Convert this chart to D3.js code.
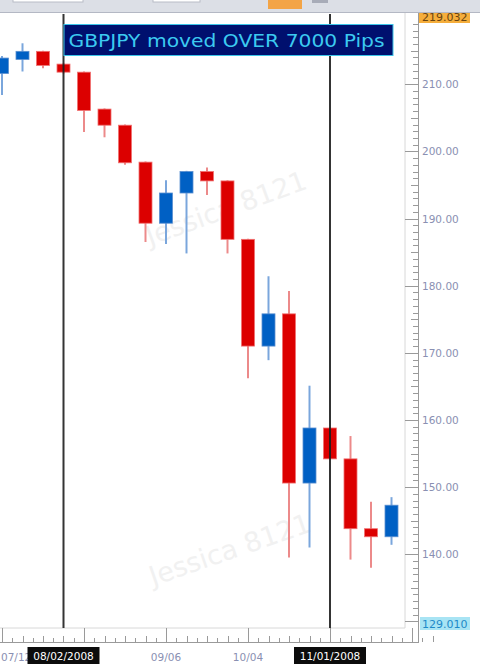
<!DOCTYPE html>
<html>
<head>
<meta charset="utf-8">
<script src="https://cdn.jsdelivr.net/npm/d3@7"></script>
<style>
  html, body { margin: 0; padding: 0; background: #fff; }
  svg { display: block; }
</style>
</head>
<body>
<div class="holder"></div>
<script>
// weekly GBPJPY candles
var dates  = ["07/12", "07/19", "07/26", "08/02", "08/09", "08/16", "08/23", "08/30", "09/06", "09/13",
              "09/20", "09/27", "10/04", "10/11", "10/18", "10/25", "11/01", "11/08", "11/15", "11/22"];
var opens  = [211.6, 213.7, 214.9, 213.0, 211.8, 206.3, 203.9, 198.4, 189.3, 193.8,
              197.0, 195.6, 186.9, 171.0, 175.8, 150.6, 158.8, 154.2, 143.8, 142.6];
var highs  = [214.2, 216.1, 215.0, 213.1, 211.9, 206.4, 204.0, 198.5, 195.7, 197.1,
              197.6, 195.7, 187.0, 181.4, 179.2, 165.1, 158.9, 157.6, 147.8, 148.5];
var lows   = [208.4, 211.9, 212.4, 211.6, 202.9, 202.1, 198.0, 186.5, 186.2, 184.8,
              193.5, 184.8, 166.2, 168.9, 139.5, 141.0, 154.1, 139.2, 138.0, 141.4];
var closes = [213.9, 214.9, 212.8, 211.8, 206.1, 203.9, 198.3, 189.3, 193.8, 197.0,
              195.6, 186.9, 171.0, 175.8, 150.6, 158.8, 154.2, 143.8, 142.6, 147.3];

var priceTicks = [140, 150, 160, 170, 180, 190, 200, 210];
var dateLabels = ["07/12", "09/06", "10/04"];
var markedDates = ["08/02/2008", "11/01/2008"];   // crosshair lines
var markedIdx = [3, 16];
var priceMin = 129.010, priceMax = 219.032;
var title = "GBPJPY moved OVER 7000 Pips";

var candles = dates.map(function(d, i) {
    return {date: d, i: i, o: opens[i], h: highs[i], l: lows[i], c: closes[i]};
});

var width = 480,
    height = 664;
var plotTop = 12, plotBottom = 628, plotRight = 405, axisX = 418;

var x = d3.scaleLinear().domain([0, dates.length - 1]).range([2, 391.5]);
var y = d3.scaleLinear().domain([priceMin, priceMax]).range([628, 23.6]);

var red = "#dc0000", blue = "#0060c4";

var svg = d3.select(".holder").append("svg")
    .attr("width", width)
    .attr("height", height)
    .style("font-family", "DejaVu Sans, Verdana, sans-serif");

svg.append("rect").attr("width", width).attr("height", height).attr("fill", "#fff");

// faint watermarks
var marks = [[150, 246, -20], [153, 586, -19]];
svg.append("g").selectAll("text")
    .data(marks).enter()
    .append("text")
    .attr("transform", function(d) { return "translate(" + d[0] + "," + d[1] + ") rotate(" + d[2] + ")"; })
    .attr("font-size", 27)
    .attr("fill", "#f1f1f1")
    .text("Jessica 8121");

// right axis panel border
svg.append("line")
    .attr("x1", plotRight).attr("x2", plotRight).attr("y1", plotTop).attr("y2", plotBottom)
    .attr("stroke", "#d8d8d8");
svg.append("line")
    .attr("x1", 0).attr("x2", plotRight).attr("y1", plotBottom).attr("y2", plotBottom)
    .attr("stroke", "#d8d8d8");

// price axis ticks
var minor = d3.range(130, 220, 1);
svg.append("g").selectAll("line")
    .data(minor).enter()
    .append("line")
    .attr("x1", function(d) { return d % 10 == 0 ? plotRight : (d % 5 == 0 ? axisX - 7 : axisX - 5); })
    .attr("x2", axisX)
    .attr("y1", function(d) { return Math.round(y(d)) + 0.5; })
    .attr("y2", function(d) { return Math.round(y(d)) + 0.5; })
    .attr("stroke", "#9a9a9a");
svg.append("line")
    .attr("x1", axisX + 0.5).attr("x2", axisX + 0.5).attr("y1", plotTop).attr("y2", 643)
    .attr("stroke", "#9a9a9a");

svg.append("g").selectAll("text")
    .data(priceTicks).enter()
    .append("text")
    .attr("x", 422)
    .attr("y", function(d) { return y(d) + 4; })
    .attr("font-size", 10.5)
    .attr("fill", "#8a90b2")
    .text(function(d) { return d3.format(".2f")(d); });

// date axis ticks
var dTicks = d3.range(0, dates.length + 1.5, 0.5);
svg.append("line")
    .attr("x1", 0).attr("x2", axisX).attr("y1", 642.5).attr("y2", 642.5)
    .attr("stroke", "#9a9a9a");
svg.append("g").selectAll("line")
    .data(dTicks).enter()
    .append("line")
    .attr("x1", function(d) { return Math.round(x(d)) + 0.5; })
    .attr("x2", function(d) { return Math.round(x(d)) + 0.5; })
    .attr("y1", function(d) { return d % 4 == 0 ? plotBottom : (d % 1 == 0 ? 636 : 638); })
    .attr("y2", 642)
    .attr("stroke", "#9a9a9a");

svg.append("g").selectAll("text")
    .data(dateLabels).enter()
    .append("text")
    .attr("x", function(d) { return d == "07/12" ? 1 : x(dates.indexOf(d)); })
    .attr("y", 661)
    .attr("text-anchor", function(d) { return d == "07/12" ? "start" : "middle"; })
    .attr("font-size", 10.5)
    .attr("fill", "#8a90b2")
    .text(function(d) { return d; });

// candles
var g = svg.append("g");
g.selectAll("line.wick")
    .data(candles).enter()
    .append("line")
    .attr("class", "wick")
    .attr("x1", function(d) { return x(d.i); })
    .attr("x2", function(d) { return x(d.i); })
    .attr("y1", function(d) { return y(d.h); })
    .attr("y2", function(d) { return y(d.l); })
    .attr("stroke", function(d) { return d.c >= d.o ? "#7aa6dc" : "#ec8a8a"; })
    .attr("stroke-width", 2);

g.selectAll("rect.body")
    .data(candles).enter()
    .append("rect")
    .attr("class", "body")
    .attr("x", function(d) { return x(d.i) - 6.5; })
    .attr("width", 13)
    .attr("y", function(d) { return y(Math.max(d.o, d.c)); })
    .attr("height", function(d) { return Math.max(2, Math.abs(y(d.o) - y(d.c))); })
    .attr("fill", function(d) { return d.c >= d.o ? blue : red; })
    .attr("stroke", function(d) { return d.c >= d.o ? "#5a8fd0" : "#f07070"; })
    .attr("stroke-width", 0.8);

// crosshair lines and their date labels
svg.append("g").selectAll("line")
    .data(markedIdx).enter()
    .append("line")
    .attr("x1", function(d) { return x(d); })
    .attr("x2", function(d) { return x(d); })
    .attr("y1", 14)
    .attr("y2", plotBottom)
    .attr("stroke", "#1e1e1e")
    .attr("stroke-opacity", 0.9)
    .attr("stroke-width", 2);

var boxes = svg.append("g").selectAll("g")
    .data(markedIdx).enter()
    .append("g");
boxes.append("rect")
    .attr("x", function(d) { return x(d) - 36; })
    .attr("y", 647)
    .attr("width", 72)
    .attr("height", 17)
    .attr("fill", "#0c0c0c");
boxes.append("text")
    .attr("x", function(d) { return x(d); })
    .attr("y", 660)
    .attr("text-anchor", "middle")
    .attr("font-size", 10.5)
    .attr("fill", "#fff")
    .text(function(d, i) { return markedDates[i]; });

// title box
svg.append("rect")
    .attr("x", x(3) + 0.5).attr("y", 24.5)
    .attr("width", 329).attr("height", 31)
    .attr("fill", "#00106e")
    .attr("stroke", "#3cc4e8");
svg.append("text")
    .attr("x", x(3) + 5)
    .attr("y", 47)
    .attr("font-size", 18.5)
    .attr("textLength", 316)
    .attr("lengthAdjust", "spacingAndGlyphs")
    .attr("fill", "#3ccaf0")
    .text(title);

// price labels on the axis: low and high of the view
svg.append("rect")
    .attr("x", 420).attr("y", 617).attr("width", 50).attr("height", 13)
    .attr("fill", "#a8e4f4");
svg.append("text")
    .attr("x", 422).attr("y", 628)
    .attr("font-size", 11)
    .attr("fill", "#1f8ac8")
    .text(d3.format(".3f")(priceMin));

svg.append("rect")
    .attr("x", 419).attr("y", 11).attr("width", 51).attr("height", 12)
    .attr("fill", "#f5ae3c");
svg.append("text")
    .attr("x", 422).attr("y", 21)
    .attr("font-size", 11)
    .attr("fill", "#6a4410")
    .text(d3.format(".3f")(priceMax));

// toolbar strip at the top
var bar = svg.append("g");
bar.append("rect").attr("width", width).attr("height", 12).attr("fill", "#dcdfe6");
bar.append("line").attr("x1", 0).attr("x2", width).attr("y1", 12.5).attr("y2", 12.5).attr("stroke", "#b4b8c4");
bar.append("rect").attr("x", 13).attr("y", -2).attr("width", 70).attr("height", 4).attr("fill", "#fff").attr("stroke", "#b8bcc6");
bar.append("rect").attr("x", 153).attr("y", -2).attr("width", 47).attr("height", 4).attr("fill", "#fff").attr("stroke", "#b8bcc6");
bar.append("rect").attr("x", 268).attr("y", 0).attr("width", 34).attr("height", 9).attr("fill", "#f3a446");
bar.append("rect").attr("x", 312).attr("y", 0).attr("width", 16).attr("height", 3).attr("fill", "#a8acb8");
</script>
</body>
</html>
